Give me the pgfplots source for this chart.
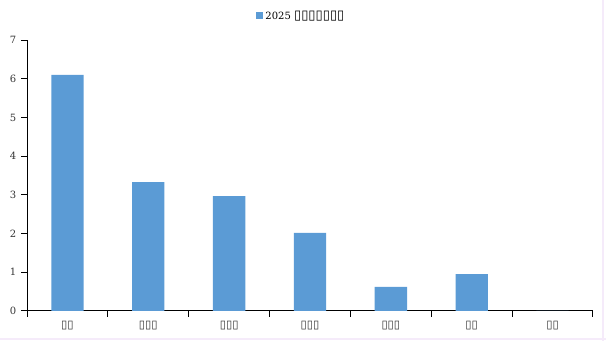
\documentclass[border=0pt]{standalone}
\usepackage{fontspec}
\setmainfont{DejaVu Serif}
\newfontfamily\symf{DejaVu Sans}
\usepackage{pgfplots}
\pgfplotsset{compat=1.18}
\definecolor{barblue}{HTML}{5B9BD5}
\definecolor{txt}{HTML}{333333}
\newcommand\tf{{\symf\char"25AF}}
\newcommand\tfl{{\symf\fontsize{9.8}{10}\selectfont\char"25AF}}
\begin{document}
\begin{tikzpicture}
\path[use as bounding box] (0pt,0pt) rectangle (454.5pt,255.75pt);
\draw[color={rgb,255:red,245;green,235;blue,250},line width=1.2pt] (452.25pt,0pt) -- (452.25pt,255.75pt);
\draw[color={rgb,255:red,245;green,235;blue,250},line width=1.2pt] (0pt,1.5pt) -- (454.5pt,1.5pt);
\begin{axis}[
  at={(20.25pt,22.5pt)}, anchor=south west,
  scale only axis, width=424.5pt, height=203.25pt,
  xmin=-0.5, xmax=6.5, ymin=0, ymax=7,
  axis x line=bottom, axis y line=left,
  axis line style={-, line width=0.75pt, black},
  every tick/.style={draw=black, line width=0.75pt},
  xtick={-0.5,0.5,1.5,2.5,3.5,4.5,5.5,6.5},
  xticklabels={},
  extra x ticks={0,1,2,3,4,5,6},
  extra x tick labels={\tf\tf,\tf\tf\tf,\tf\tf\tf,\tf\tf\tf,\tf\tf\tf,\tf\tf,\tf\tf},
  extra x tick style={major tick length=0pt, every tick/.style={draw=none}},
  ytick={0,1,2,3,4,5,6,7},
  tick align=outside, major tick length=4.5pt,
  x tick label style={font=\fontsize{8.5}{9}\selectfont, text=txt, yshift=-4pt},
  y tick label style={font=\fontsize{7.5}{9}\selectfont, text=txt},
  /pgf/number format/assume math mode=true,
  ybar, bar width=0.4,
  legend style={at={(0.485,1)}, anchor=south, yshift=12pt, draw=none, fill=none,
    font=\fontsize{7.5}{9}\selectfont, text=black, inner sep=0pt},
  legend image code/.code={\fill[barblue] (0pt,-2.6pt) rectangle (5.2pt,2.6pt);},
]
\addplot[fill=barblue, draw=none] coordinates {(0,6.1) (1,3.33) (2,2.97) (3,2.02) (4,0.62) (5,0.95) (6,0)};
\addlegendentry{2025 \tfl\tfl\tfl\tfl\tfl\tfl\tfl}
\end{axis}
\end{tikzpicture}
\end{document}
